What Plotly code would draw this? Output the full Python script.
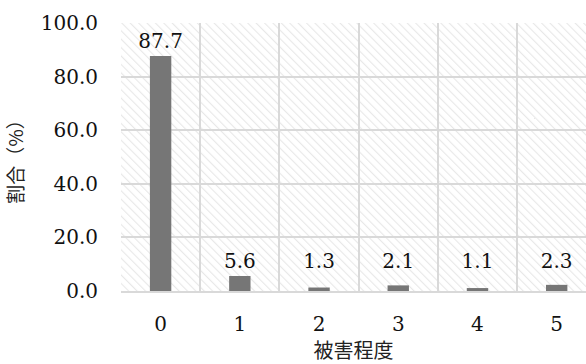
import base64
import numpy as np
import plotly.graph_objects as go

# 被害程度ごとの割合（%）
levels = ["0", "1", "2", "3", "4", "5"]
shares = [87.7, 5.6, 1.3, 2.1, 1.1, 2.3]
y_ticks = [0, 20, 40, 60, 80, 100]

SERIF = "DejaVu Serif"
CJK = "Noto Sans CJK JP"
GRID = "#d9d9d9"
INK = "#111111"

# light diagonal hatching for the plot background
hatch_svg = (
    "<svg xmlns='http://www.w3.org/2000/svg' width='470' height='270'>"
    "<defs><pattern id='h' width='6' height='6' patternUnits='userSpaceOnUse' "
    "patternTransform='rotate(-45)'>"
    "<rect width='6' height='6' fill='white'/>"
    "<line x1='0' y1='0' x2='0' y2='6' stroke='#e8e8e8' stroke-width='2.2'/>"
    "</pattern></defs>"
    "<rect width='470' height='270' fill='url(#h)'/></svg>"
)
hatch_src = "data:image/svg+xml;base64," + base64.b64encode(hatch_svg.encode()).decode()

fig = go.Figure()

fig.add_trace(go.Bar(
    x=levels,
    y=shares,
    width=0.27,
    marker=dict(color="#767676", line=dict(width=0)),
    hoverinfo="x+y",
))

# value labels, lifted to a common floor for the short bars
label_y = np.maximum(shares, 5.6) + 1.0
fig.add_trace(go.Scatter(
    x=levels,
    y=label_y,
    mode="text",
    text=[f"{v:.1f}" for v in shares],
    textposition="top center",
    textfont=dict(family=SERIF, size=20, color=INK),
    hoverinfo="skip",
))

fig.update_layout(
    width=586,
    height=364,
    margin=dict(l=121, r=0, t=23, b=73),
    paper_bgcolor="white",
    plot_bgcolor="rgba(0,0,0,0)",
    showlegend=False,
    images=[dict(
        source=hatch_src,
        xref="paper", yref="paper",
        x=0, y=1, sizex=1, sizey=1,
        xanchor="left", yanchor="top",
        sizing="stretch",
        layer="below",
    )],
    xaxis=dict(
        type="category",
        range=[-0.5, 5.37],
        tickson="boundaries",
        showgrid=True,
        gridcolor=GRID,
        gridwidth=2,
        showline=True,
        linecolor=GRID,
        linewidth=2,
        ticks="",
        ticklabelstandoff=14,
        tickfont=dict(family=SERIF, size=20, color=INK),
        title=dict(text="被害程度", font=dict(family=CJK, size=20, color="#222222"), standoff=8),
        fixedrange=True,
    ),
    yaxis=dict(
        range=[0, 100],
        tickvals=y_ticks,
        ticktext=[f"{v:.1f}" for v in y_ticks],
        showgrid=True,
        gridcolor=GRID,
        gridwidth=2,
        zeroline=False,
        showline=False,
        ticks="",
        ticklabelstandoff=22,
        tickfont=dict(family=SERIF, size=20, color=INK),
        title=dict(text="割合（%）", font=dict(family=CJK, size=19, color="#222222"), standoff=12),
        fixedrange=True,
    ),
)

fig.write_html("out.html")
